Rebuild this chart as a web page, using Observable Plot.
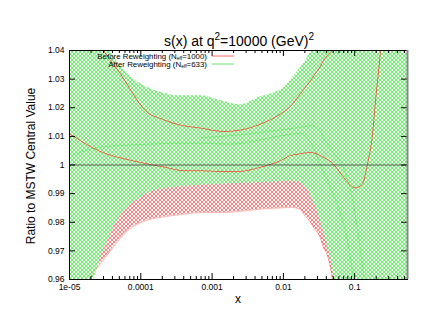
<!DOCTYPE html>
<html><head><meta charset="utf-8">
<script src="https://cdn.jsdelivr.net/npm/d3@7"></script>
<script src="https://cdn.jsdelivr.net/npm/@observablehq/plot@0.6"></script>
<style>body{margin:0;background:#fff}</style>
</head><body><div id="chart"></div>
<script>
// ---- tick labels ----
const xTickValues = [1e-5, 1e-4, 1e-3, 1e-2, 1e-1];
const xTickLabels = ["1e-05", "0.0001", "0.001", "0.01", "0.1"];
const yTickValues = [0.96, 0.97, 0.98, 0.99, 1.0, 1.01, 1.02, 1.03, 1.04];
const yTickLabels = ["0.96", "0.97", "0.98", "0.99", "1", "1.01", "1.02", "1.03", "1.04"];

// ---- Before reweighting band (red) ----
const redBandX = [1e-5, 1.43e-5, 1.97e-5, 2.55e-5, 3e-5, 3.76e-5, 5.2e-5, 6.5e-5, 9e-5, 1.16e-4, 2e-4, 4e-4, 6.9e-4, 1.45e-3, 2.5e-3, 4.77e-3, 9.1e-3, 0.0126, 0.0174, 0.0191, 0.024, 0.0264, 0.0331, 0.0365, 0.0415, 0.0458, 0.0489, 0.0574, 0.07, 0.1, 0.2, 0.55];
const redUpper = [1.062, 1.055, 1.048, 1.043, 1.040, 1.0365, 1.0318, 1.028, 1.0225, 1.019, 1.016, 1.0137, 1.0129, 1.0117, 1.0122, 1.0143, 1.0178, 1.0205, 1.025, 1.0263, 1.0295, 1.031, 1.0345, 1.0365, 1.0383, 1.0395, 1.0402, 1.043, 1.047, 1.055, 1.08, 1.12];
const redLower = [0.935, 0.948, 0.9607, 0.9645, 0.9668, 0.970, 0.9745, 0.977, 0.9793, 0.9805, 0.9818, 0.9828, 0.9834, 0.9834, 0.9838, 0.9846, 0.985, 0.9852, 0.9845, 0.983, 0.980, 0.9782, 0.9745, 0.9712, 0.9685, 0.9642, 0.960, 0.952, 0.94, 0.92, 0.90, 0.88];
const redMidX = [1e-5, 1.43e-5, 2.55e-5, 7.65e-5, 1.28e-4, 2.22e-4, 3.97e-4, 6.88e-4, 1.31e-3, 2.27e-3, 4.77e-3, 9.1e-3, 0.0126, 0.0163, 0.024, 0.0365, 0.0505, 0.0697, 0.1026, 0.1286, 0.151, 0.1778, 0.196, 0.23, 0.3];
const redMid = [1.011, 1.0085, 1.005, 1.0015, 1.0003, 0.9992, 0.998, 0.998, 0.9977, 0.9977, 0.9992, 1.0015, 1.0033, 1.0038, 1.0044, 1.0027, 1.0003, 0.9957, 0.992, 0.9934, 1.0003, 1.0108, 1.0225, 1.04, 1.09];

// ---- After reweighting band (green) ----
const greenBandX = [1e-5, 1.43e-5, 2.17e-5, 3e-5, 3.76e-5, 4.14e-5, 5.2e-5, 6.5e-5, 9e-5, 1.24e-4, 1.9e-4, 3.4e-4, 6.9e-4, 1.3e-3, 2.0e-3, 2.5e-3, 3.46e-3, 4.33e-3, 6.6e-3, 0.0107, 0.0139, 0.0174, 0.0211, 0.024, 0.0256, 0.0301, 0.0365, 0.0429, 0.0489, 0.0521, 0.063, 0.1, 0.2, 0.55];
const greenUpper = [1.07, 1.06, 1.05, 1.043, 1.0394, 1.038, 1.0345, 1.0318, 1.029, 1.0271, 1.0254, 1.0242, 1.0242, 1.0225, 1.0213, 1.021, 1.0222, 1.0234, 1.0248, 1.0275, 1.031, 1.034, 1.037, 1.040, 1.042, 1.047, 1.055, 1.065, 1.075, 1.08, 1.09, 1.12, 1.15, 1.2];
const greenLower = [0.935, 0.948, 0.960, 0.970, 0.9755, 0.978, 0.982, 0.985, 0.9878, 0.990, 0.9915, 0.9923, 0.9929, 0.9933, 0.9935, 0.9936, 0.9937, 0.9938, 0.994, 0.9942, 0.9943, 0.994, 0.9918, 0.9899, 0.988, 0.984, 0.977, 0.971, 0.964, 0.959, 0.94, 0.90, 0.88, 0.85];
const greenMidAX = [1.09e-5, 2.55e-5, 7.6e-5, 3.97e-4, 6.88e-4, 1.81e-3, 5.26e-3, 9.1e-3, 0.0174, 0.024, 0.0331, 0.0458, 0.0632, 0.0816, 0.0962];
const greenMidA = [1.0033, 1.0062, 1.007, 1.0076, 1.0076, 1.0073, 1.009, 1.0102, 1.011, 1.008, 1.0003, 0.992, 0.983, 0.972, 0.96];
const greenMidBX = [6.88e-4, 3.13e-3, 6.59e-3, 0.0163, 0.024, 0.0301, 0.0365, 0.0505, 0.0697, 0.0873, 0.106, 0.1206, 0.1328, 0.146];
const greenMidB = [1.0095, 1.0108, 1.0118, 1.0131, 1.0137, 1.013, 1.0097, 1.004, 0.999, 0.991, 0.98, 0.97, 0.962, 0.955];

const legendItems = [
  {pre: "Before Reweighting (N", sub: "eff", post: "=1000)", color: "#ff4040"},
  {pre: "After Reweighting (N", sub: "eff", post: "=633)", color: "#44e044"}
];

const redBand = redBandX.map((x, i) => ({x, lo: redLower[i], hi: redUpper[i]}));
const greenBand = greenBandX.map((x, i) => ({x, lo: greenLower[i], hi: greenUpper[i]}));
const redMidData = redMidX.map((x, i) => ({x, y: redMid[i]}));
const gA = greenMidAX.map((x, i) => ({x, y: greenMidA[i]}));
const gB = greenMidBX.map((x, i) => ({x, y: greenMidB[i]}));

const minorX = [];
for (let k = -5; k <= -1; k++) for (let m = 2; m <= 9; m++) { const v = m * Math.pow(10, k); if (v < 0.55) minorX.push(v); }

const FW = 434 - 69 - 27, FH = 335 - 50 - 56;
const font = "'Liberation Sans', Arial, sans-serif";
const RED = "#f03a2a", GREEN = "#33dd33";

const svg = Plot.plot({
  width: 434, height: 335,
  marginLeft: 69, marginRight: 27, marginTop: 50, marginBottom: 56,
  x: {type: "log", domain: [1e-5, 0.55]},
  y: {domain: [0.96, 1.04]},
  style: {fontFamily: font, background: "#fff", color: "#000"},
  marks: [
    Plot.areaY(redBand, {x: "x", y1: "lo", y2: "hi", fill: "url(#hatchR)", curve: "monotone-x", clip: true}),
    Plot.areaY(greenBand, {x: "x", y1: "lo", y2: "hi", fill: "url(#hatchG)", curve: "monotone-x", clip: true}),
    Plot.lineY(gA, {x: "x", y: "y", stroke: GREEN, strokeWidth: 0.7, strokeOpacity: 0.6, curve: "monotone-x", clip: true}),
    Plot.lineY(gB, {x: "x", y: "y", stroke: GREEN, strokeWidth: 0.7, strokeOpacity: 0.6, curve: "monotone-x", clip: true}),
    Plot.lineY(redBand, {x: "x", y: "hi", stroke: RED, strokeWidth: 0.8, curve: "monotone-x", clip: true}),
    Plot.lineY(redBand, {x: "x", y: "lo", stroke: RED, strokeWidth: 0.6, strokeOpacity: 0.6, curve: "monotone-x", clip: true}),
    Plot.lineY(redMidData, {x: "x", y: "y", stroke: RED, strokeWidth: 0.8, curve: "monotone-x", clip: true}),
    Plot.ruleY([1], {stroke: "#555", strokeWidth: 1}),
    Plot.tickX(xTickValues, {x: d => d, insetTop: FH - 6, stroke: "#000"}),
    Plot.tickX(xTickValues, {x: d => d, insetBottom: FH - 6, stroke: "#000"}),
    Plot.tickX(minorX, {x: d => d, insetTop: FH - 3, stroke: "#000"}),
    Plot.tickX(minorX, {x: d => d, insetBottom: FH - 3, stroke: "#000"}),
    Plot.tickY(yTickValues, {y: d => d, insetRight: FW - 6, stroke: "#000"}),
    Plot.tickY(yTickValues, {y: d => d, insetLeft: FW - 6, stroke: "#000"}),
    Plot.frame({stroke: "#000"}),
    Plot.ruleX([0.55], {stroke: "#888", strokeWidth: 2}),
    Plot.axisX({ticks: xTickValues, tickFormat: d => xTickLabels[xTickValues.indexOf(d)], tickSize: 0, tickPadding: 4, fontSize: 8.5, label: null}),
    Plot.axisY({ticks: yTickValues, tickFormat: d => yTickLabels[yTickValues.indexOf(d)], tickSize: 0, tickPadding: 5, fontSize: 8.5, label: null})
  ]
});

const s = d3.select(svg);
s.insert("defs", ":first-child").html(
  '<pattern id="hatchG" patternUnits="userSpaceOnUse" width="4" height="4">' +
  '<rect width="4" height="4" fill="#fff"/>' +
  '<path d="M0,0L4,4M4,0L0,4M-1,3L1,5M3,-1L5,1M-1,1L1,-1M3,5L5,3" stroke="#3aee3a" stroke-width="0.75" fill="none"/>' +
  '</pattern>' +
  '<pattern id="hatchR" patternUnits="userSpaceOnUse" width="4" height="4">' +
  '<rect width="4" height="4" fill="#fff"/>' +
  '<path d="M0,0L4,4M4,0L0,4M-1,3L1,5M3,-1L5,1M-1,1L1,-1M3,5L5,3" stroke="#ff4a4a" stroke-width="0.7" fill="none"/>' +
  '</pattern>'
);

// title
const t = s.append("text").attr("x", 239).attr("y", 46).attr("text-anchor", "middle")
  .attr("font-family", font).attr("font-size", 14).attr("fill", "#000");
t.append("tspan").text("s(x) at q");
t.append("tspan").attr("font-size", 10).attr("dy", -6).text("2");
t.append("tspan").attr("dy", 6).text("=10000 (GeV)");
t.append("tspan").attr("font-size", 10).attr("dy", -6).text("2");

// axis labels
s.append("text").attr("transform", "translate(35,166) rotate(-90)").attr("text-anchor", "middle")
  .attr("font-family", font).attr("font-size", 12).attr("fill", "#000").text("Ratio to MSTW Central Value");
s.append("text").attr("x", 238).attr("y", 303).attr("text-anchor", "middle")
  .attr("font-family", font).attr("font-size", 12).attr("fill", "#000").text("x");

// legend
const leg = s.append("g").attr("font-family", font).attr("font-size", 7.9).attr("fill", "#000");
legendItems.forEach((item, i) => {
  const y = 58.5 + i * 8;
  const tx = leg.append("text").attr("x", 207).attr("y", y).attr("text-anchor", "end");
  tx.append("tspan").text(item.pre);
  tx.append("tspan").attr("font-size", 5).attr("dy", 1).text(item.sub);
  tx.append("tspan").attr("dy", -1).text(item.post);
  leg.append("line").attr("x1", 212).attr("x2", 234).attr("y1", y - 2.5).attr("y2", y - 2.5)
    .attr("stroke", item.color).attr("stroke-width", 0.8);
});

document.getElementById("chart").appendChild(svg);
</script>
</body></html>
